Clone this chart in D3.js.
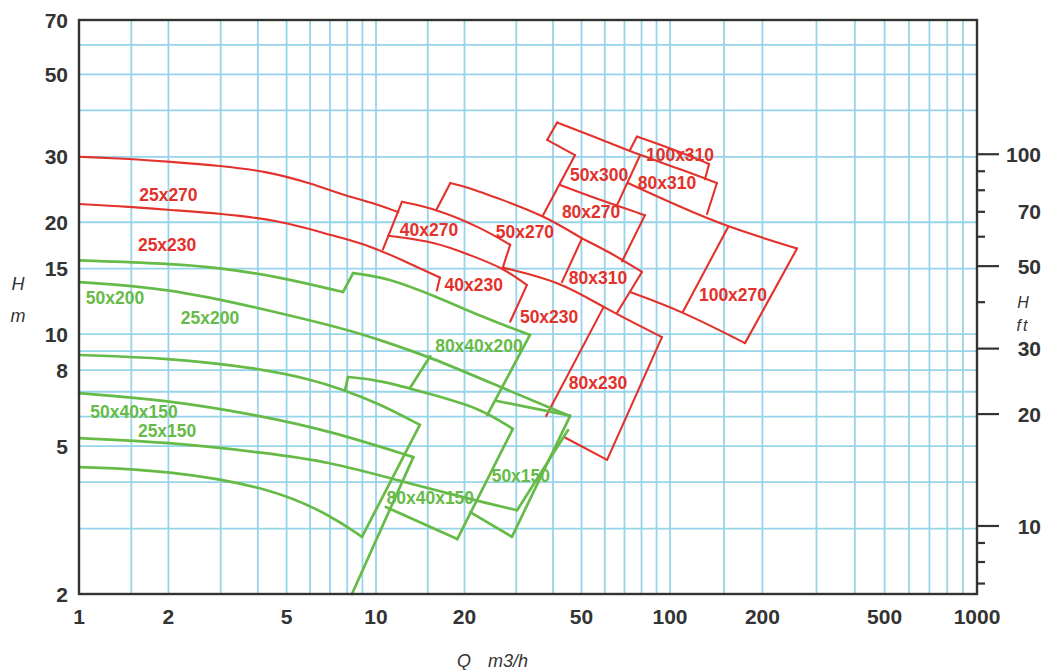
<!DOCTYPE html>
<html>
<head>
<meta charset="utf-8">
<script src="https://cdn.jsdelivr.net/npm/d3@7"></script>
<style>
  body { margin: 0; background: #fff; }
  svg { display: block; }
</style>
</head>
<body>
<svg id="chart" width="1045" height="670"></svg>
<script>
// ---- axes ----
const qLabels = [1, 2, 5, 10, 20, 50, 100, 200, 500, 1000];
const qGrid = [1.5, 2, 3, 4, 5, 6, 7, 8, 9, 10, 15, 20, 30, 40, 50, 60, 70, 80, 90,
               100, 150, 200, 300, 400, 500, 600, 700, 800, 900];
const hLabels = [70, 50, 30, 20, 15, 10, 8, 5, 2];
const hGrid = [3, 4, 5, 6, 7, 8, 9, 10, 15, 20, 30, 40, 50, 60];
const ftLabels = [100, 70, 50, 30, 20, 10];
const ftMajor = [100, 50, 30, 20, 10];
const ftMinor = [90, 80, 70, 60, 40, 9, 8, 7];

// ---- red pump curves [Q m3/h, H m] ----
const redPieces = [
  [[1, 30], [1.5, 29.6], [2, 29.1], [3, 28.4], [4.3, 27.4], [6, 25.5], [8, 23.5], [9.5, 22.7], [11.9, 21.3]],
  [[1, 22.4], [1.5, 22], [2, 21.6], [3, 21.1], [4.64, 20.3], [7, 18.5], [9.55, 17.3], [12.1, 15.9], [16.5, 14.2]],
  [[16.5, 14.2], [16.1, 13.1]],
  [[10.56, 16.9], [12.25, 22.7]],
  [[12.25, 22.7], [16.1, 21.7], [22.6, 19.4], [28.6, 17.4]],
  [[28.6, 17.4], [27, 15.1]],
  [[11, 18.4], [16.1, 17.7], [20.9, 16.3], [27, 15.1], [32.6, 13.55]],
  [[32.6, 13.55], [28.6, 10.8]],
  [[27, 15.1], [42.9, 13.8], [59.2, 11.8], [93.9, 9.82]],
  [[16.1, 21.7], [17.9, 25.5]],
  [[17.9, 25.5], [20.4, 24.9], [27, 22.95], [37, 20.9], [50.2, 18.1]],
  [[50.2, 18.1], [42.9, 13.8]],
  [[50.2, 18.1], [62.5, 16.6], [80.3, 14.7]],
  [[80.3, 14.7], [66, 11.4]],
  [[59.2, 11.75], [37.9, 6.02]],
  [[43.6, 5.29], [61.1, 4.59]],
  [[61.1, 4.59], [93.9, 9.82]],
  [[41.3, 37.1], [38.2, 33.3]],
  [[38.2, 33.3], [47.5, 30.3]],
  [[47.5, 30.3], [37, 20.9]],
  [[41.3, 37.1], [57.8, 33.5], [79.1, 30.3], [107.8, 27.8], [142.2, 25.5]],
  [[142.2, 25.5], [132, 21.05]],
  [[79.1, 30.3], [66, 22.2]],
  [[42.3, 25.2], [57.8, 22.95], [82.2, 20.9]],
  [[82.2, 20.9], [68.7, 15.7]],
  [[73.1, 31.3], [77.2, 34]],
  [[77.2, 34], [103.8, 31.3], [134, 28.7]],
  [[134, 28.7], [130, 26.1]],
  [[71.9, 25.5], [107.8, 22], [154.5, 19.4], [259.3, 17]],
  [[259.3, 17], [175.5, 9.46]],
  [[73.1, 12.98], [110.3, 11.5], [175.5, 9.46]],
  [[154.5, 19.4], [110.3, 11.5]]
];
const redLabels = [
  ["25x270", 2.0, 23.7], ["25x230", 1.98, 17.4], ["40x270", 15.15, 19.06],
  ["50x270", 32.1, 18.8], ["40x230", 21.5, 13.55], ["50x300", 57.4, 26.8],
  ["80x270", 53.9, 21.3], ["100x310", 107.8, 30.3], ["80x310", 97.7, 25.5],
  ["80x310", 56.9, 14.2], ["50x230", 38.8, 11.1], ["80x230", 56.9, 7.39],
  ["100x270", 160.4, 12.74]
];

// ---- green pump curves [Q m3/h, H m] ----
const greenPieces = [
  [[1, 15.8], [1.98, 15.5], [2.98, 15.1], [4.86, 14.2], [7.74, 12.98]],
  [[7.74, 12.98], [8.37, 14.6]],
  [[8.37, 14.6], [10.9, 14.2], [16.1, 12.6], [23.1, 11.1], [33.4, 9.95]],
  [[33.4, 9.95], [23.9, 6.06]],
  [[1, 13.8], [1.98, 13.3], [3.975, 11.8], [8.17, 10.26], [10.3, 9.64], [15.3, 8.68], [27, 7.16], [45.7, 6.02]],
  [[45.7, 6.02], [29, 2.85]],
  [[15.3, 8.73], [13.05, 7.16]],
  [[1, 8.79], [1.98, 8.63], [3.975, 8.11], [6, 7.57], [7.74, 7.1], [10.3, 6.49], [14.1, 5.7]],
  [[14.1, 5.7], [8.97, 2.85]],
  [[7.87, 7.07], [8.05, 7.67]],
  [[8.05, 7.67], [10.3, 7.53], [15.3, 6.9], [22.6, 6.33], [29.2, 5.56]],
  [[29.2, 5.56], [18.9, 2.81]],
  [[18.9, 2.81], [10.8, 3.43]],
  [[1, 6.94], [1.98, 6.65], [3.975, 6.06], [7, 5.49], [13.4, 4.67]],
  [[13.4, 4.67], [8.3, 2]],
  [[1, 5.25], [1.98, 5.13], [4.3, 4.79], [7, 4.53], [11.8, 4.05], [21.4, 3.58], [30.2, 3.36]],
  [[30.2, 3.36], [45, 5.52]],
  [[1, 4.39], [1.98, 4.31], [4.5, 3.85], [7, 3.26], [8.97, 2.85]],
  [[25.8, 6.61], [45.7, 6.04]],
  [[20.9, 3.32], [29, 2.85]]
];
const greenLabels = [
  ["50x200", 1.322, 12.5], ["25x200", 2.76, 11.05], ["50x40x150", 1.532, 6.17],
  ["25x150", 1.98, 5.49], ["80x40x200", 22.4, 9.29], ["50x150", 31.1, 4.15],
  ["80x40x150", 15.3, 3.62]
];

// ---- drawing ----
const plotLeft = 79, plotRight = 977, plotTop = 20, plotBottom = 594;
const svg = d3.select("#chart");

const x = d3.scaleLog().domain([1, 10, 100, 1000]).range([plotLeft, 376, 670, plotRight]);
const y = d3.scaleLog().domain([70, 2]).range([plotTop, plotBottom]);
const yFt = d3.scaleLog().domain([70 / 0.3048, 2 / 0.3048]).range([plotTop, plotBottom]);

const gridColor = "#96d4ea";
const axisColor = "#333";
const red = "#e3312b";
const green = "#66bb48";

// grid
svg.append("g")
  .selectAll("line")
  .data(qGrid)
  .join("line")
    .attr("x1", d => x(d)).attr("x2", d => x(d))
    .attr("y1", plotTop).attr("y2", plotBottom)
    .attr("stroke", gridColor).attr("stroke-width", 1.8);

svg.append("g")
  .selectAll("line")
  .data(hGrid)
  .join("line")
    .attr("x1", plotLeft).attr("x2", plotRight)
    .attr("y1", d => y(d)).attr("y2", d => y(d))
    .attr("stroke", gridColor).attr("stroke-width", 1.8);

// curves (smoothed through the read points; two-point pieces stay straight)
const line = d3.line()
  .x(d => x(d[0]))
  .y(d => y(d[1]))
  .curve(d3.curveBasis);

const curves = svg.append("g")
  .attr("fill", "none")
  .attr("stroke-linejoin", "round")
  .attr("stroke-linecap", "round");

curves.selectAll("path.red")
  .data(redPieces)
  .join("path")
    .attr("class", "red")
    .attr("d", line)
    .attr("stroke", red)
    .attr("stroke-width", 2.1);

curves.selectAll("path.green")
  .data(greenPieces)
  .join("path")
    .attr("class", "green")
    .attr("d", line)
    .attr("stroke", green)
    .attr("stroke-width", 2.7);

// curve labels
const labelFont = "'Liberation Sans', Arial, sans-serif";
function addLabels(data, color) {
  svg.append("g")
    .selectAll("text")
    .data(data)
    .join("text")
      .attr("x", d => x(d[1]))
      .attr("y", d => y(d[2]))
      .attr("text-anchor", "middle")
      .attr("dominant-baseline", "central")
      .style("font-family", labelFont)
      .style("font-size", "17.5px")
      .style("font-weight", "bold")
      .style("fill", color)
      .text(d => d[0]);
}
addLabels(redLabels, red);
addLabels(greenLabels, green);

// frame
svg.append("rect")
  .attr("x", plotLeft).attr("y", plotTop)
  .attr("width", plotRight - plotLeft).attr("height", plotBottom - plotTop)
  .attr("fill", "none")
  .attr("stroke", axisColor)
  .attr("stroke-width", 2.4);

// tick labels
const tickFont = { "font-family": labelFont, "font-size": "21px", "font-weight": "bold", "fill": "#333" };
function styleText(sel, s) { for (const k in s) sel.style(k, s[k]); return sel; }

styleText(svg.append("g")
  .selectAll("text")
  .data(qLabels)
  .join("text")
    .attr("x", d => x(d))
    .attr("y", 624)
    .attr("text-anchor", "middle")
    .text(d => d), tickFont);

styleText(svg.append("g")
  .selectAll("text")
  .data(hLabels)
  .join("text")
    .attr("x", 68)
    .attr("y", d => y(d))
    .attr("dy", "0.36em")
    .attr("text-anchor", "end")
    .text(d => d), tickFont);

// right axis in feet
const ftAxis = svg.append("g");
ftAxis.selectAll("line.major")
  .data(ftMajor)
  .join("line")
    .attr("class", "major")
    .attr("x1", plotRight).attr("x2", plotRight + 22)
    .attr("y1", d => yFt(d)).attr("y2", d => yFt(d))
    .attr("stroke", axisColor).attr("stroke-width", 2.2);
ftAxis.selectAll("line.minor")
  .data(ftMinor)
  .join("line")
    .attr("class", "minor")
    .attr("x1", plotRight).attr("x2", plotRight + 8)
    .attr("y1", d => yFt(d)).attr("y2", d => yFt(d))
    .attr("stroke", axisColor).attr("stroke-width", 2.2);
styleText(ftAxis.selectAll("text")
  .data(ftLabels)
  .join("text")
    .attr("x", 1041)
    .attr("y", d => yFt(d))
    .attr("dy", "0.36em")
    .attr("text-anchor", "end")
    .text(d => d), tickFont);

// axis titles
const titleStyle = { "font-family": labelFont, "font-size": "18px", "font-style": "italic", "fill": "#333" };
styleText(svg.append("text").attr("x", 18).attr("y", 290).attr("text-anchor", "middle").text("H"), titleStyle);
styleText(svg.append("text").attr("x", 18).attr("y", 322).attr("text-anchor", "middle").text("m"), titleStyle);
styleText(svg.append("text").attr("x", 457).attr("y", 667).text("Q"), titleStyle);
styleText(svg.append("text").attr("x", 488).attr("y", 667).text("m3/h"), titleStyle);
const ftTitle = { "font-family": labelFont, "font-size": "16px", "font-style": "italic", "fill": "#333" };
styleText(svg.append("text").attr("x", 1023).attr("y", 308).attr("text-anchor", "middle").text("H"), ftTitle);
styleText(svg.append("text").attr("x", 1023).attr("y", 331).attr("text-anchor", "middle")
  .style("letter-spacing", "2px").text("ft"), ftTitle);
</script>
</body>
</html>
